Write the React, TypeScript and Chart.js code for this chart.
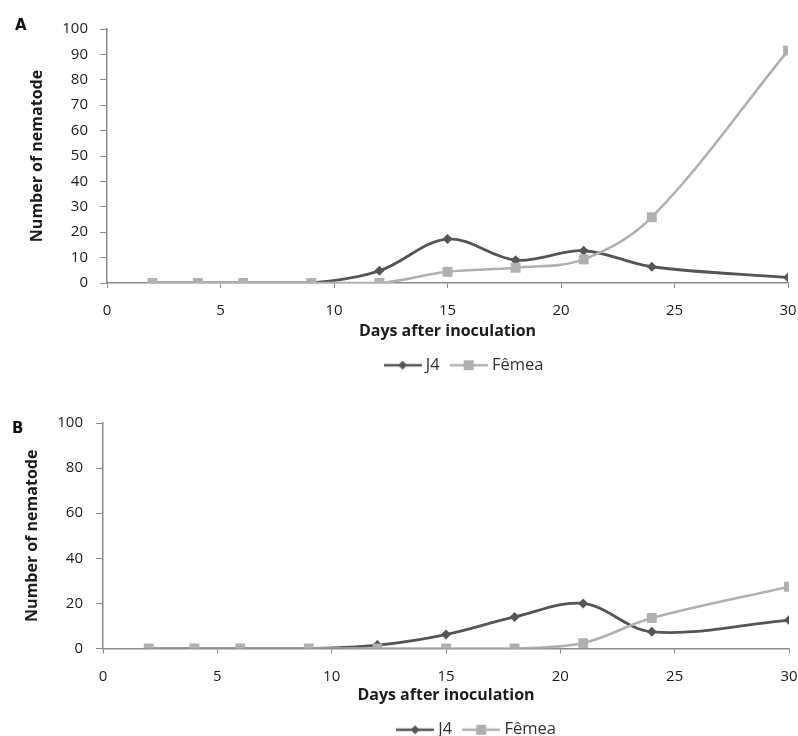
import React, { useEffect, useRef } from "react";
import { Chart, registerables } from "chart.js";

Chart.register(...registerables);

// ---- data ----
const days = [2, 4, 6, 9, 12, 15, 18, 21, 24, 30];
const j4A = [0, 0, 0, 0, 4.8, 17.3, 9.0, 12.7, 6.4, 2.2];
const femeaA = [0, 0, 0, 0, 0, 4.4, 6.0, 9.3, 25.9, 91.5];
const j4B = [0, 0, 0, 0, 1.5, 6.2, 14.0, 20.0, 7.4, 12.6];
const femeaB = [0, 0, 0, 0, 0, 0, 0, 2.4, 13.5, 27.4];
const xTickValues = [0, 5, 10, 15, 20, 25, 30];
const yTicksA = [0, 10, 20, 30, 40, 50, 60, 70, 80, 90, 100];
const yTicksB = [0, 20, 40, 60, 80, 100];
const seriesNames = ["J4", "Fêmea"];
const xTitle = "Days after inoculation";
const yTitle = "Number of nematode";

const J4_COLOR = "#555555";
const FEM_COLOR = "#b0b0b0";
const AXIS_COLOR = "#8a8a8a";
const TEXT_COLOR = "#1c1c1c";
const FONT = "'Open Sans', 'Noto Sans', sans-serif";

function makeLegendImage(color: string, shape: "diamond" | "square") {
  const c = document.createElement("canvas");
  c.width = 38;
  c.height = 12;
  const ctx = c.getContext("2d")!;
  ctx.strokeStyle = color;
  ctx.lineWidth = 2.5;
  ctx.beginPath();
  ctx.moveTo(0, 6);
  ctx.lineTo(38, 6);
  ctx.stroke();
  ctx.fillStyle = color;
  ctx.beginPath();
  if (shape === "diamond") {
    ctx.moveTo(19 - 4.5, 6);
    ctx.lineTo(19, 6 - 4.5);
    ctx.lineTo(19 + 4.5, 6);
    ctx.lineTo(19, 6 + 4.5);
    ctx.closePath();
  } else {
    ctx.rect(19 - 5, 1, 10, 10);
  }
  ctx.fill();
  return c;
}

type PanelCfg = {
  j4: number[];
  fem: number[];
  yTicks: number[];
  areaLeft: number;
  padLeft: number;
  padTop: number;
  padRight: number;
  padBottom: number;
  xAxisHeight: number;
  yTickPad: number;
  legendShift: number;
};

function buildChart(canvas: HTMLCanvasElement, cfg: PanelCfg) {
  const imgJ4 = makeLegendImage(J4_COLOR, "diamond");
  const imgFem = makeLegendImage(FEM_COLOR, "square");
  const yMax = cfg.yTicks[cfg.yTicks.length - 1];
  const xMax = xTickValues[xTickValues.length - 1];

  const shiftPlugin = {
    id: "legendShift",
    afterLayout(chart: any) {
      if (chart.legend) {
        chart.legend.left += cfg.legendShift;
        chart.legend.right += cfg.legendShift;
      }
    },
  };

  return new Chart(canvas, {
    type: "line",
    data: {
      datasets: [
        {
          label: seriesNames[0],
          data: days.map((d, i) => ({ x: d, y: cfg.j4[i] })),
          borderColor: J4_COLOR,
          backgroundColor: J4_COLOR,
          borderWidth: 2.8,
          pointStyle: "rectRot",
          pointRadius: 5,
          pointBorderWidth: 0,
          tension: 0.35,
          order: 1,
        },
        {
          label: seriesNames[1],
          data: days.map((d, i) => ({ x: d, y: cfg.fem[i] })),
          borderColor: FEM_COLOR,
          backgroundColor: FEM_COLOR,
          borderWidth: 2.6,
          pointStyle: "rect",
          pointRadius: 7,
          pointBorderWidth: 0,
          tension: 0.35,
          order: 0,
        },
      ],
    },
    options: {
      animation: false,
      responsive: false,
      maintainAspectRatio: false,
      layout: {
        padding: {
          left: cfg.padLeft,
          top: cfg.padTop,
          right: cfg.padRight,
          bottom: cfg.padBottom,
        },
      },
      scales: {
        x: {
          type: "linear",
          min: 0,
          max: xMax,
          afterBuildTicks: (s: any) => {
            s.ticks = xTickValues.map((v) => ({ value: v }));
          },
          afterFit: (s: any) => {
            s.height = cfg.xAxisHeight;
            s.paddingLeft = 0;
            s.paddingRight = 0;
          },
          border: { color: AXIS_COLOR, width: 1.5 },
          grid: {
            display: true,
            drawOnChartArea: false,
            drawTicks: true,
            tickLength: 5,
            color: AXIS_COLOR,
            lineWidth: 1,
          },
          ticks: {
            color: TEXT_COLOR,
            padding: 14,
            maxRotation: 0,
            font: { family: FONT, size: 15 },
          },
          title: {
            display: true,
            text: xTitle,
            color: TEXT_COLOR,
            padding: { top: 0, bottom: 2 },
            font: { family: FONT, size: 16, weight: "bold" },
          },
        },
        y: {
          type: "linear",
          min: 0,
          max: yMax,
          afterBuildTicks: (s: any) => {
            s.ticks = cfg.yTicks.map((v) => ({ value: v }));
          },
          afterFit: (s: any) => {
            s.width = cfg.areaLeft - cfg.padLeft;
            s.paddingTop = 0;
            s.paddingBottom = 0;
          },
          border: { color: AXIS_COLOR, width: 1.5 },
          grid: {
            display: true,
            drawOnChartArea: false,
            drawTicks: true,
            tickLength: 7,
            color: AXIS_COLOR,
            lineWidth: 1,
          },
          ticks: {
            color: TEXT_COLOR,
            padding: cfg.yTickPad,
            font: { family: FONT, size: 15 },
          },
          title: {
            display: true,
            text: yTitle,
            color: TEXT_COLOR,
            padding: { top: 0, bottom: 0 },
            font: { family: FONT, size: 16, weight: "bold" },
          },
        },
      },
      plugins: {
        tooltip: { enabled: false },
        legend: {
          display: true,
          position: "bottom",
          fullSize: false,
          labels: {
            usePointStyle: true,
            pointStyleWidth: 30,
            padding: 14,
            color: "#333333",
            font: { family: FONT, size: 16.5 },
            generateLabels: () => [
              {
                text: seriesNames[0],
                pointStyle: imgJ4 as any,
                fillStyle: "transparent",
                strokeStyle: "transparent",
                lineWidth: 0,
                hidden: false,
                datasetIndex: 0,
                fontColor: "#333333",
              },
              {
                text: seriesNames[1],
                pointStyle: imgFem as any,
                fillStyle: "transparent",
                strokeStyle: "transparent",
                lineWidth: 0,
                hidden: false,
                datasetIndex: 1,
                fontColor: "#333333",
              },
            ],
          },
        },
      },
    } as any,
    plugins: [shiftPlugin],
  });
}

function Panel(props: { cfg: PanelCfg; top: number; height: number; letter: string; letterLeft: number; letterTop: number }) {
  const ref = useRef<HTMLCanvasElement | null>(null);
  useEffect(() => {
    if (!ref.current) return;
    const chart = buildChart(ref.current, props.cfg);
    return () => chart.destroy();
  }, []);
  return (
    <div style={{ position: "absolute", left: 0, top: props.top, width: 798, height: props.height }}>
      <canvas ref={ref} width={798} height={props.height} style={{ display: "block", width: 798, height: props.height }} />
      <div
        style={{
          position: "absolute",
          left: props.letterLeft,
          top: props.letterTop,
          font: "bold 15px 'DejaVu Sans', sans-serif",
          lineHeight: "15px",
          color: "#111",
        }}
      >
        {props.letter}
      </div>
    </div>
  );
}

const cfgA: PanelCfg = {
  j4: j4A,
  fem: femeaA,
  yTicks: yTicksA,
  areaLeft: 107,
  padLeft: 28,
  padTop: 29,
  padRight: 10,
  padBottom: 1.5,
  xAxisHeight: 60,
  yTickPad: 12,
  legendShift: 18,
};

const cfgB: PanelCfg = {
  j4: j4B,
  fem: femeaB,
  yTicks: yTicksB,
  areaLeft: 103,
  padLeft: 23,
  padTop: 38,
  padRight: 9,
  padBottom: 0,
  xAxisHeight: 59,
  yTickPad: 13,
  legendShift: 32,
};

export default function App() {
  return (
    <div
      style={{
        position: "absolute",
        left: 0,
        top: 0,
        width: 798,
        height: 736,
        overflow: "hidden",
        background: "#ffffff",
      }}
    >
      <Panel cfg={cfgA} top={0} height={385} letter="A" letterLeft={15} letterTop={18} />
      <Panel cfg={cfgB} top={385} height={363} letter="B" letterLeft={12} letterTop={36} />
    </div>
  );
}
